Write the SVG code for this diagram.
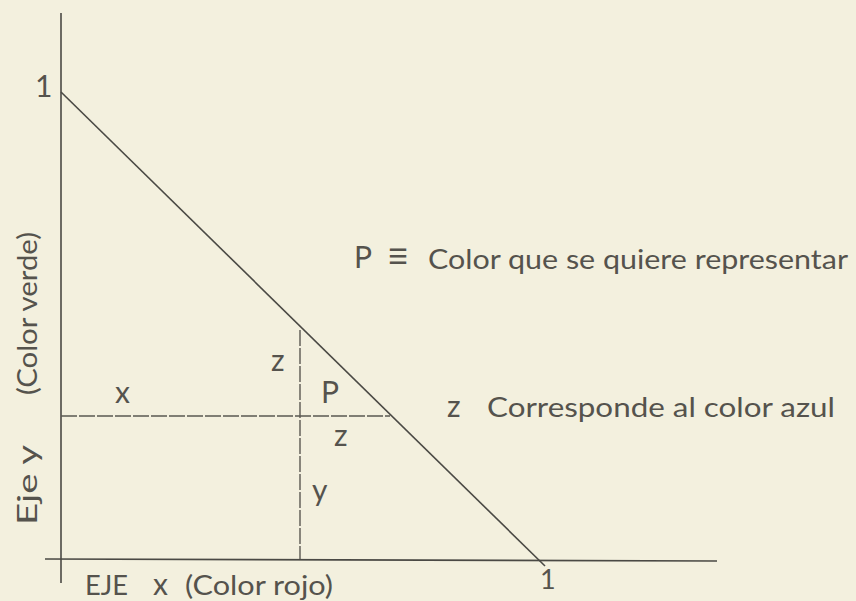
<svg xmlns="http://www.w3.org/2000/svg" width="856" height="601" viewBox="0 0 856 601">
<style>
.t{font-family:Lato,"Liberation Sans",sans-serif;font-size:27px;fill:#55534d}
.s{font-size:30px}
.ax{stroke:#4a4944;stroke-width:1.6;fill:none}
.g{stroke:#5a5852;stroke-width:1.4;fill:none;stroke-dasharray:16 2}
</style>
<rect width="856" height="601" fill="#f3f0de"/>
<g id="connectors">
<line class="ax" x1="61" y1="13" x2="61" y2="583"/>
<line class="ax" x1="45" y1="559" x2="717" y2="561"/>
<line class="ax" x1="61" y1="92" x2="545" y2="566"/>
<line class="g" x1="61" y1="416" x2="390" y2="416"/>
<line class="g" x1="300" y1="330" x2="300" y2="559"/>
</g>
<g id="axis-labels">
<text class="t s" x="35" y="97">1</text>
<text class="t" x="540" y="589">1</text>
<text class="t" x="85" y="595" textLength="43" lengthAdjust="spacingAndGlyphs">EJE</text>
<text class="t s" x="153" y="595">x</text>
<text class="t" x="185" y="595" textLength="148" lengthAdjust="spacingAndGlyphs">(Color rojo)</text>
<text class="t" transform="translate(37,525) rotate(-90)" textLength="80" lengthAdjust="spacingAndGlyphs">Eje y</text>
<text class="t" transform="translate(37,395) rotate(-90)" textLength="163" lengthAdjust="spacingAndGlyphs">(Color verde)</text>
</g>
<g id="region-labels">
<text class="t s" x="115" y="403">x</text>
<text class="t s" x="271" y="371">z</text>
<text class="t s" x="321" y="403">P</text>
<text class="t s" x="334" y="446">z</text>
<text class="t s" x="312" y="501">y</text>
</g>
<g id="legend">
<text class="t s" x="354" y="268">P</text>
<text class="t" x="387" y="269" style="font-size:38px">≡</text>
<text class="t" x="428" y="269" textLength="420" lengthAdjust="spacingAndGlyphs">Color que se quiere representar</text>
<text class="t s" x="447" y="417">z</text>
<text class="t" x="487" y="417" textLength="348" lengthAdjust="spacingAndGlyphs">Corresponde al color azul</text>
</g>
</svg>
